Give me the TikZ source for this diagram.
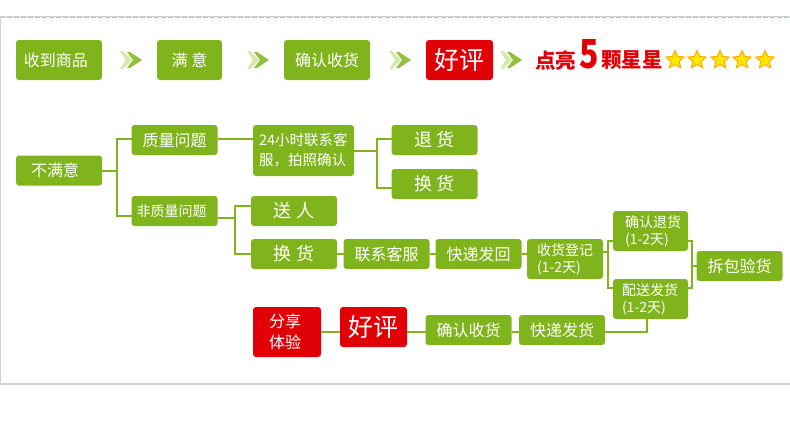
\documentclass[tikz,border=0pt]{standalone}
\usepackage{fontspec}
\usepackage{tikz}
\usetikzlibrary{shapes.geometric}
\newfontfamily\cjk{Noto Sans CJK SC}
\definecolor{leaf}{HTML}{80B41C}
\definecolor{leafpale}{HTML}{D5E8AE}
\definecolor{alarm}{HTML}{E10006}
\definecolor{rim}{HTML}{D2D2D2}
\definecolor{dashrim}{HTML}{9CD0C8}

\begin{document}
\begin{tikzpicture}[x=1pt,y=-1pt,line width=2pt,leaf]
  \tikzstyle{gbox}=[fill=leaf,draw=none,rounded corners=3pt,text=white,inner sep=0pt,outer sep=0pt,
                    font=\cjk\fontsize{16}{20}\selectfont]
  \tikzstyle{rbox}=[gbox,fill=alarm]
  \tikzstyle{small}=[font=\cjk\fontsize{14}{17}\selectfont]
  \tikzstyle{wide}=[font=\cjk\fontsize{18}{22}\selectfont]
  \tikzstyle{big}=[font=\cjk\fontsize{25}{30}\selectfont]
  \tikzstyle{stepA}=[minimum width=86pt,minimum height=30pt]
  \tikzstyle{stepB}=[minimum width=86pt,minimum height=40pt]
  \tikzstyle{stepC}=[minimum width=67pt,minimum height=40pt]
  \tikzstyle{lines}=[small,minimum height=40pt,align=left]
  \tikzstyle{slogan}=[text=alarm,inner sep=0pt,font=\cjk\bfseries\fontsize{20.5}{24}\selectfont]

  \useasboundingbox (0,0) rectangle (790,429);

  % frame
  \draw[rim,line width=1pt] (0,16.5) -- (790,16.5);
  \draw[dashrim,line width=1pt,dash pattern=on 5pt off 2pt] (0,17.5) -- (790,17.5);
  \draw[rim,line width=1.5pt] (0.5,16) -- (0.5,384) -- (790,384);

  % top row
  \node[gbox,stepB]                 (S1) at (59,60)    {\hspace*{-6pt}收到商品};
  \node[gbox,stepC,minimum width=65pt] (S2) at (189.5,60) {满 意};
  \node[gbox,stepB]                 (S3) at (327,60)   {确认收货};
  \node[rbox,stepC,big]             (S4) at (459.5,60) {好评};
  \node[slogan,anchor=west]         (S5) at (534,60.5) {点亮};
  \node[slogan,anchor=west,font=\cjk\bfseries\fontsize{40}{44}\selectfont] (S6) at (578,54)
        {\scalebox{.8}[1]{5}};
  \node[slogan,anchor=west]         (S7) at (600,60.5) {颗星星};

  \foreach \x in {120,247,389,500}{
    \fill[leafpale] (\x,51) -- (\x+3,51) -- (\x+12,60) -- (\x+3,69) -- (\x,69) -- (\x+6,60) -- cycle;
    \fill[leaf!85!white] (\x+7,52) -- (\x+10,52) -- (\x+22,60) -- (\x+10,68) -- (\x+7,68) -- (\x+13,60) -- cycle;
  }
  \foreach \x/\n in {675/1,697/2,720/3,742/4,765/5}
    \node[star,star points=5,star point ratio=2.1,fill=yellow!90!orange,draw=orange!65!yellow,
          line width=1pt,inner sep=0pt,minimum size=19pt] (K\n) at (\x,60) {};

  % branch of the tree
  \node[gbox,stepA]                 (B1) at (59,170.5)   {\hspace*{-8pt}不满意};
  \node[gbox,stepA]                 (Q1) at (174.5,140)  {质量问题};
  \node[gbox,stepA,small]           (Q2) at (174.5,211)  {\hspace*{-6pt}非质量问题};
  \node[gbox,font=\cjk\fontsize{14.5}{20}\selectfont,align=left,minimum height=51pt,
        text width=89pt,inner xsep=6pt] (C1) at (303.5,150.5)
        {24小时联系客\\服，拍照确认};
  \node[gbox,stepA,wide]            (R1) at (434.5,140)  {退 货};
  \node[gbox,stepA,wide]            (R2) at (434.5,184)  {换 货};
  \node[gbox,stepA,wide]            (N1) at (294,211)    {送 人};
  \node[gbox,stepA,wide]            (N2) at (294,254)    {换 货};
  \node[gbox,stepA]                 (N3) at (386.5,254)  {联系客服};
  \node[gbox,stepA]                 (N4) at (478.5,254)  {快递发回};
  \node[gbox,lines,text width=56pt,inner xsep=10pt] (N5) at (565,259) {收货登记\\(1-2天)};
  \node[gbox,lines,text width=51pt,inner xsep=12pt] (U1) at (650.5,231) {确认退货\\(1-2天)};
  \node[gbox,lines,text width=57pt,inner xsep=9pt]  (U2) at (650.5,299) {配送发货\\(1-2天)};
  \node[gbox,stepA]                 (U3) at (739.5,266)  {拆包验货};

  % bottom row
  \node[rbox,align=center,minimum width=68pt,minimum height=50pt,
        font=\cjk\fontsize{16}{21}\selectfont] (T1) at (287,332) {\hspace*{-4pt}分享\\\hspace*{-4pt}体验};
  \node[rbox,stepC,big]             (T2) at (373.5,327)  {好评};
  \node[gbox,stepA]                 (T3) at (468.5,330)  {确认收货};
  \node[gbox,stepA]                 (T4) at (562,330)    {快递发货};

  \coordinate (J1) at (117,170.5);
  \coordinate (J2) at (377,151);
  \coordinate (J3) at (235,218);
  \coordinate (J4) at (608,252);
  \coordinate (J5) at (692,266);
  \coordinate (J6) at (647,332);
  \coordinate (H1) at (0,241);
  \coordinate (H2) at (0,288);
  \coordinate (H3) at (0,139);
  \coordinate (H4) at (0,216);
  \coordinate (H5) at (0,188);
  \coordinate (H6) at (0,206);

  \draw (B1.east |- J1) -- (J1);
  \draw (Q1.west |- H3) -| (J1) |- (Q2.west |- H4);
  \draw (Q1.east |- H3) -- (C1.west |- H3);
  \draw (C1.east |- J2) -- (J2);
  \draw (R1.west |- H3) -| (J2) |- (R2.west |- H5);
  \draw (Q2.east |- J3) -- (J3);
  \draw (N1.west |- H6) -| (J3) |- (N2.west);
  \draw (N2) -- (N3);
  \draw (N3) -- (N4);
  \draw (N4) -- (N5.west |- N4);
  \draw (N5.east |- J4) -- (J4);
  \draw (U1.west |- H1) -| (J4) |- (U2.west |- H2);
  \draw (U1.east |- H1) -| (J5) |- (U2.east |- H2);
  \draw (J5) -- (U3);
  \draw (T4.east |- J6) -| (U2.south -| J6);
  \draw (T3.east |- J6) -- (T4.west |- J6);
  \draw (T2.east |- J6) -- (T3.west |- J6);
  \draw (T1.east |- J6) -- (T2.west |- J6);
\end{tikzpicture}
\end{document}
